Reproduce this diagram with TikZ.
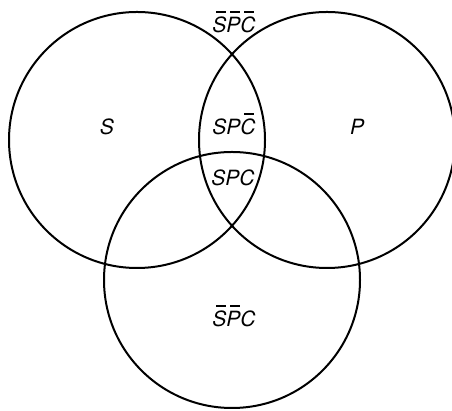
\documentclass[tikz,border=0pt]{standalone}
\usepackage{fontspec}
\setmainfont{TeX Gyre Heros}

% letter with a bar over it (complement)
\newcommand{\nt}[1]{\leavevmode\rlap{\hspace{0.18em}\raisebox{0.93em}{\rule{0.45em}{0.07em}}}#1}

\begin{document}
\begin{tikzpicture}[
    x=1pt, y=1pt,
    set/.style={draw, circle, line width=2pt, minimum size=256pt, inner sep=0pt},
    lbl/.style={font=\fontsize{21}{25}\selectfont\itshape, inner sep=1pt}
]
\useasboundingbox (0,0) rectangle (452,411);

% the three sets
\node[set] (sset) at (137,271) {};
\node[set] (pset) at (327,271) {};
\node[set] (cset) at (232,131) {};

% region labels
\node[lbl] (outside) at (234,389) {\nt{S}\nt{P}\nt{C}};
\node[lbl] (slabel) at (107,284) {S};
\node[lbl] (plabel) at (357,284) {P};
\node[lbl] (spnc) at (234,287) {SP\nt{C}};
\node[lbl] (spc) at (233,233) {SPC};
\node[lbl] (nsnpc) at (234,95) {\nt{S}\nt{P}C};

\end{tikzpicture}
\end{document}
